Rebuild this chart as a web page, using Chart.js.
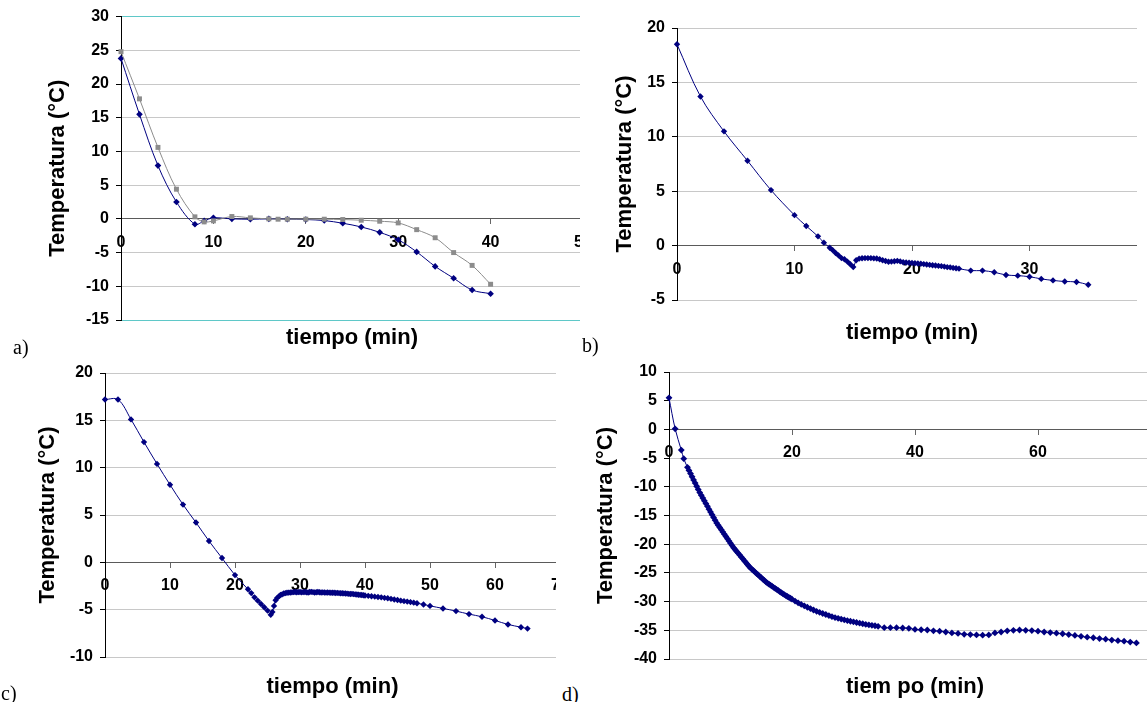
<!DOCTYPE html>
<html><head><meta charset="utf-8">
<script src="https://cdn.jsdelivr.net/npm/chart.js@4.4.0/dist/chart.umd.min.js"></script>
<style>
html,body{margin:0;padding:0;background:#fff;}
body{width:1147px;height:702px;overflow:hidden;position:relative;}
.clip{position:absolute;overflow:hidden;}
.clip canvas{position:absolute;left:0;top:0;}
.lbl{position:absolute;font-family:"Liberation Serif","Times New Roman",serif;font-size:20px;line-height:20px;color:#000;}
</style></head><body>
<div class="clip" style="left:0;top:0;width:580px;height:350px"><canvas id="ca" width="610" height="350"></canvas></div>
<div class="clip" style="left:580px;top:0;width:557px;height:350px"><canvas id="cb" width="592" height="350"></canvas></div>
<div class="clip" style="left:0;top:350px;width:556px;height:352px"><canvas id="cc" width="585" height="352"></canvas></div>
<div class="clip" style="left:580px;top:350px;width:567px;height:352px"><canvas id="cd" width="605" height="352"></canvas></div>
<div class="lbl" style="left:13px;top:337px">a)</div>
<div class="lbl" style="left:582px;top:335px">b)</div>
<div class="lbl" style="left:1px;top:683px">c)</div>
<div class="lbl" style="left:562px;top:684px">d)</div>
<script>
// ---- Panel a ----
const aTimeBlue = [0,2,4,6,8,9,10,12,14,16,18,20,22,24,26,28,30,32,34,36,38,40];
const aTempBlue = [23.8,15.5,7.9,2.5,-0.8,-0.3,0.15,0.0,-0.05,0.0,-0.05,-0.1,-0.25,-0.65,-1.2,-2.0,-3.1,-4.9,-7.05,-8.8,-10.55,-11.1];
const aTimeGray = [0,2,4,6,8,9,10,12,14,16,17,18,20,22,24,26,28,30,32,34,36,38,40];
const aTempGray = [24.8,17.8,10.6,4.4,0.3,-0.45,-0.3,0.35,0.15,0.0,-0.05,-0.05,-0.05,-0.05,-0.1,-0.2,-0.35,-0.6,-1.6,-2.8,-5.0,-6.9,-9.7];
const aXTicks = [0,10,20,30,40,50];
const aYTicks = [-15,-10,-5,0,5,10,15,20,25,30];

// ---- Panel b ----
const bTime = [0,2,4,6,8,10,11,12,12.5,13,
  13.25,13.5,13.75,14,14.25,14.5,14.75,15,15.25,15.5,15.75,16,16.25,16.5,16.75,17,17.25,17.5,17.75,18,18.25,18.5,18.75,19,19.25,19.5,19.75,20,20.25,20.5,20.75,21,21.25,21.5,21.75,22,22.25,22.5,22.75,23,23.25,23.5,23.75,24,
  25,26,27,28,29,30,31,32,33,34,35];
const bTemp = [18.5,13.7,10.5,7.8,5.1,2.8,1.8,0.85,0.27,-0.2,
  -0.42,-0.68,-0.9,-1.15,-1.26,-1.47,-1.72,-1.97,-1.35,-1.2,-1.16,-1.15,-1.15,-1.15,-1.17,-1.18,-1.25,-1.35,-1.42,-1.48,-1.47,-1.44,-1.4,-1.45,-1.53,-1.55,-1.57,-1.6,-1.62,-1.65,-1.67,-1.7,-1.74,-1.77,-1.8,-1.83,-1.86,-1.89,-1.93,-1.98,-2.0,-2.05,-2.08,-2.12,
  -2.3,-2.3,-2.45,-2.7,-2.76,-2.86,-3.06,-3.2,-3.3,-3.34,-3.6];
const bXTicks = [0,10,20,30,40];
const bYTicks = [-5,0,5,10,15,20];

// ---- Panel c ----
const cTime = [0,2,4,6,8,10,12,14,16,18,20,22,
  22.5,23,23.5,24,24.5,25,25.5,
  25.75,26,26.25,26.5,26.75,27,27.25,27.5,27.75,28,28.25,28.5,28.75,29,29.25,29.5,29.75,30,30.25,30.5,30.75,31,31.25,31.5,31.75,32,32.25,32.5,32.75,33,33.25,33.5,33.75,34,34.25,34.5,34.75,35,35.25,35.5,35.75,36,36.25,36.5,36.75,37,37.25,37.5,37.75,38,38.25,38.5,38.75,39,39.25,39.5,39.75,40,
  40.5,41,41.5,42,42.5,43,43.5,44,44.5,45,45.5,46,46.5,47,47.5,48,
  49,50,52,54,56,58,60,62,64,65];
const cTemp = [17.2,17.2,15.1,12.7,10.4,8.2,6.1,4.2,2.25,0.45,-1.35,-2.85,
  -3.25,-3.7,-4.05,-4.4,-4.75,-5.1,-5.55,
  -5.25,-4.6,-4.0,-3.75,-3.6,-3.45,-3.38,-3.3,-3.25,-3.22,-3.2,-3.18,-3.17,-3.15,-3.14,-3.16,-3.15,-3.14,-3.17,-3.15,-3.13,-3.16,-3.18,-3.14,-3.12,-3.15,-3.18,-3.16,-3.13,-3.16,-3.19,-3.17,-3.18,-3.2,-3.19,-3.2,-3.22,-3.21,-3.22,-3.24,-3.23,-3.25,-3.27,-3.26,-3.28,-3.3,-3.31,-3.33,-3.34,-3.33,-3.36,-3.38,-3.4,-3.42,-3.44,-3.45,-3.47,-3.5,
  -3.54,-3.58,-3.62,-3.66,-3.7,-3.75,-3.8,-3.86,-3.92,-3.98,-4.05,-4.1,-4.15,-4.2,-4.26,-4.32,
  -4.45,-4.6,-4.87,-5.15,-5.47,-5.75,-6.14,-6.56,-6.85,-7.0];
const cXTicks = [0,10,20,30,40,50,60,70];
const cYTicks = [-10,-5,0,5,10,15,20];

// ---- Panel d ----
const dTime = [0,1,2,2.4,
  3,3.25,3.5,3.75,4,4.25,4.5,4.75,5,5.25,5.5,5.75,6,6.25,6.5,6.75,7,7.25,7.5,7.75,8,8.25,8.5,8.75,9,9.25,9.5,9.75,10,10.25,10.5,10.75,11,11.25,11.5,11.75,12,12.25,12.5,12.75,13,13.25,13.5,13.75,14,14.25,14.5,14.75,15,15.25,15.5,15.75,16,16.25,16.5,16.75,17,17.25,17.5,17.75,18,18.25,18.5,18.75,19,19.25,19.5,19.75,20,
  20.5,21,21.5,22,22.5,23,23.5,24,24.5,25,25.5,26,26.5,27,27.5,28,28.5,29,29.5,30,30.5,31,31.5,32,32.5,33,33.5,34,
  35,36,37,38,39,40,41,42,43,44,45,46,47,48,49,50,51,52,53,54,55,56,57,58,59,60,61,62,63,64,65,66,67,68,69,70,71,72,73,74,75,76];
const dTemp = [5.5,0.1,-3.6,-5.1,
  -6.6,-7.15,-7.7,-8.25,-8.8,-9.35,-9.9,-10.45,-11.0,
  -11.48,-11.96,-12.45,-12.93,-13.41,-13.89,-14.37,-14.85,-15.33,-15.82,-16.3,
  -16.69,-17.08,-17.47,-17.86,-18.25,-18.65,-19.04,-19.43,-19.82,-20.21,-20.6,
  -20.92,-21.25,-21.57,-21.9,-22.22,-22.55,-22.87,-23.2,-23.52,-23.84,-24.14,
  -24.38,-24.62,-24.87,-25.11,-25.35,-25.59,-25.83,-26.07,-26.31,-26.56,-26.77,
  -26.95,-27.14,-27.32,-27.51,-27.69,-27.88,-28.06,-28.25,-28.43,-28.62,-28.79,
  -28.95,-29.11,-29.27,-29.42,-29.58,
  -29.9,-30.21,-30.5,-30.74,-30.98,-31.22,-31.46,-31.7,-31.88,-32.07,-32.25,-32.44,-32.63,-32.78,-32.91,-33.04,-33.17,-33.3,-33.42,-33.53,-33.64,-33.75,-33.86,-33.97,-34.05,-34.13,-34.21,-34.3,
  -34.55,-34.55,-34.55,-34.6,-34.65,-34.85,-34.9,-34.95,-35.1,-35.15,
  -35.3,-35.45,-35.55,-35.7,-35.75,-35.8,-35.85,-35.8,-35.45,-35.3,
  -35.1,-35.0,-34.95,-35.0,-35.05,-35.15,-35.3,-35.4,-35.5,-35.6,
  -35.75,-35.9,-36.05,-36.2,-36.3,-36.45,-36.55,-36.7,-36.8,-36.9,-37.05,-37.2];
const dXTicks = [0,20,40,60,80];
const dYTicks = [-40,-35,-30,-25,-20,-15,-10,-5,0,5,10];

const yTitle = 'Temperatura (°C)';
const xTitleA = 'tiempo (min)';
const xTitleD = 'tiem po (min)';

// ---------------------------------------------------
const FAM = '"Liberation Sans", Arial, sans-serif';
Chart.defaults.font.family = FAM;
Chart.defaults.font.weight = 700;
Chart.defaults.color = '#000';
const NAVY = '#000080';
const GRAY = '#8c8c8c';
const CYAN = '#5fc8c8';
const GRID = '#c8c8c8';

const pts = (xs, ys) => xs.map((x, i) => ({x: x, y: ys[i]}));

const xTitlePlugin = {
  id: 'xTitle',
  afterDraw(chart, args, opts) {
    const ctx = chart.ctx, ca = chart.chartArea;
    ctx.save();
    ctx.font = 'bold 22px ' + FAM;
    ctx.fillStyle = '#000';
    ctx.textAlign = 'center';
    ctx.textBaseline = 'middle';
    ctx.fillText(opts.text, (ca.left + ca.right) / 2, opts.y);
    ctx.restore();
  }
};

function series(xs, ys, color, style, radius) {
  return {
    data: pts(xs, ys),
    borderColor: color, backgroundColor: color,
    borderWidth: 1, pointStyle: style, pointRadius: radius,
    pointBorderWidth: 0, pointBackgroundColor: color,
    tension: 0.35, clip: false
  };
}

function makeChart(id, datasets, xTicks, yTicks, cfg) {
  const nY = yTicks.length;
  const gridColors = yTicks.map((v, i) => (cfg.cyanEdges && (i === 0 || i === nY - 1)) ? CYAN : GRID);
  const tickFont = () => ({family: FAM, size: cfg.tickSize, weight: 700});
  return new Chart(document.getElementById(id), {
    type: 'line',
    data: {datasets: datasets},
    plugins: [xTitlePlugin],
    options: {
      responsive: false, animation: false, events: [],
      layout: {padding: {left: cfg.padLeft, top: cfg.top, right: cfg.padRight, bottom: cfg.bottom}},
      plugins: {legend: {display: false}, tooltip: {enabled: false},
        xTitle: {text: cfg.xTitle, y: cfg.xTitleY}},
      scales: {
        x: {
          type: 'linear', position: {y: 0},
          min: xTicks[0], max: xTicks[xTicks.length - 1],
          afterBuildTicks: s => { s.ticks = xTicks.map(v => ({value: v})); },
          ticks: {font: tickFont, color: '#000', padding: 9, maxRotation: 0, autoSkip: false},
          grid: {display: true, drawOnChartArea: false, drawTicks: true, tickLength: 5, tickColor: '#666'},
          border: {display: true, color: '#5a5a5a', width: 1}
        },
        y: {
          type: 'linear', position: 'left',
          min: yTicks[0], max: yTicks[nY - 1],
          afterBuildTicks: s => { s.ticks = yTicks.map(v => ({value: v})); },
          afterFit: s => { s.width = cfg.yWidth; },
          ticks: {font: tickFont, color: '#000', padding: 7},
          grid: {color: c => gridColors[c.index] || GRID, tickColor: '#000', tickLength: 5, lineWidth: 1},
          border: {display: true, color: '#000', width: 1},
          title: {display: true, text: yTitle, font: {family: FAM, size: 22, weight: 700}, color: '#000', padding: {top: 0, bottom: 0}}
        }
      }
    }
  });
}

makeChart('ca', [
  series(aTimeGray, aTempGray, GRAY, 'rect', 3.5),
  series(aTimeBlue, aTempBlue, NAVY, 'rectRot', 3.3)
], aXTicks, aYTicks, {
  padLeft: 45, yWidth: 76, top: 14, bottom: 30, padRight: 27,
  tickSize: 16, xTitle: xTitleA, xTitleY: 338, cyanEdges: true
});

makeChart('cb', [series(bTime, bTemp, NAVY, 'rectRot', 3.2)], bXTicks, bYTicks, {
  padLeft: 32, yWidth: 65, top: 28, bottom: 50, padRight: 25,
  tickSize: 16, xTitle: xTitleA, xTitleY: 333
});

makeChart('cc', [series(cTime, cTemp, NAVY, 'rectRot', 3.2)], cXTicks, cYTicks, {
  padLeft: 35, yWidth: 70, top: 23, bottom: 45, padRight: 25,
  tickSize: 16, xTitle: xTitleA, xTitleY: 337
});

makeChart('cd', [series(dTime, dTemp, NAVY, 'rectRot', 3.4)], dXTicks, dYTicks, {
  padLeft: 13, yWidth: 76, top: 22, bottom: 43, padRight: 24,
  tickSize: 16, xTitle: xTitleD, xTitleY: 337
});
</script>
</body></html>
